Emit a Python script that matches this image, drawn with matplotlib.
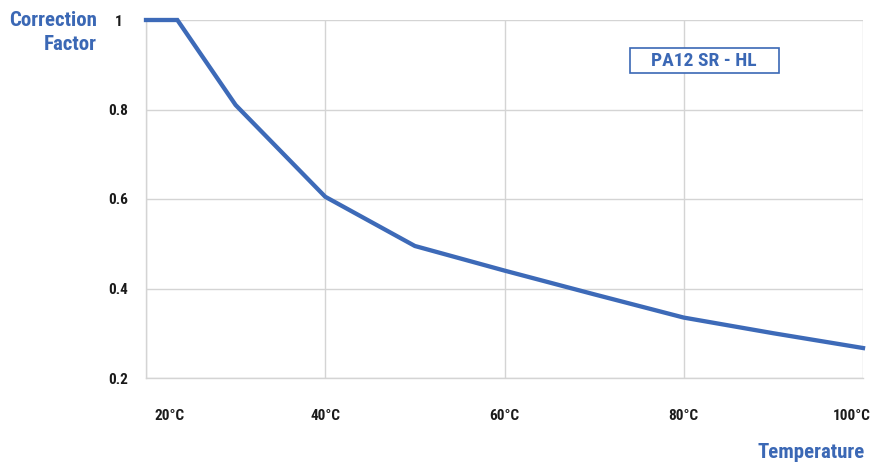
import matplotlib.pyplot as plt
from matplotlib.patches import Rectangle
from matplotlib.transforms import ScaledTranslation

plt.rcParams['font.family'] = ['Roboto Condensed', 'Archivo Narrow', 'Barlow Semi Condensed', 'DejaVu Sans']

# data
temps = [20, 23.5, 30, 40, 50, 60, 70, 80, 90, 100]
factor = [1.0, 1.0, 0.81, 0.605, 0.495, 0.44, 0.387, 0.335, 0.3, 0.267]

x_ticks = [20, 40, 60, 80, 100]
x_labels = ['20°C', '40°C', '60°C', '80°C', '100°C']
y_ticks = [0.2, 0.4, 0.6, 0.8, 1.0]
y_labels = ['0.2', '0.4', '0.6', '0.8', '1']

blue = '#3b68b5'
grid = '#d4d4d4'

fig = plt.figure(figsize=(8.83, 4.66), dpi=100)
ax = fig.add_axes([146 / 883, 1 - 378 / 466, (863 - 146) / 883, (378 - 20) / 466])

ax.plot(temps, factor, color='#3d6ab8', lw=3.1, solid_joinstyle='miter', clip_on=False, zorder=3)

ax.set_xlim(20, 100)
ax.set_ylim(0.2, 1.0)
ax.set_xticks(x_ticks)
ax.set_xticklabels(x_labels, fontsize=11, fontweight='bold', color='#1a1a1a')
ax.set_yticks(y_ticks)
ax.set_yticklabels(y_labels, fontsize=11, fontweight='bold', color='#1a1a1a', ha='center')
ax.tick_params(axis='x', length=0, pad=22)
ax.tick_params(axis='y', length=0, pad=20)
ax.grid(True, color=grid, lw=1)
for s in ax.spines.values():
    s.set_color(grid)
    s.set_linewidth(1)
ax.spines['top'].set_visible(False)
ax.spines['right'].set_visible(False)

# nudge the end labels inward like the original
labs = ax.get_xticklabels()
labs[0].set_transform(labs[0].get_transform() + ScaledTranslation(24 / 100, 0, fig.dpi_scale_trans))
labs[-1].set_transform(labs[-1].get_transform() + ScaledTranslation(-11 / 100, 0, fig.dpi_scale_trans))

fig.text(97 / 883, 1 - 20 / 466, 'Correction', ha='right', va='center',
         fontsize=15, fontweight='bold', color=blue)
fig.text(97 / 883, 1 - 44 / 466, 'Factor', ha='right', va='center',
         fontsize=15, fontweight='bold', color=blue)
fig.text(865 / 883, 1 - 453 / 466, 'Temperature', ha='right', va='center',
         fontsize=15, fontweight='bold', color=blue)

# label box
fig.patches.append(Rectangle((630 / 883, 1 - 73 / 466), 149 / 883, 25 / 466,
                             transform=fig.transFigure, facecolor='white',
                             edgecolor=blue, lw=1.2, zorder=5))
fig.text(704 / 883, 1 - 61 / 466, 'PA12 SR - HL', ha='center', va='center',
         fontsize=14, fontweight='bold', color=blue, zorder=6)

fig.savefig('out.png', dpi=100)
